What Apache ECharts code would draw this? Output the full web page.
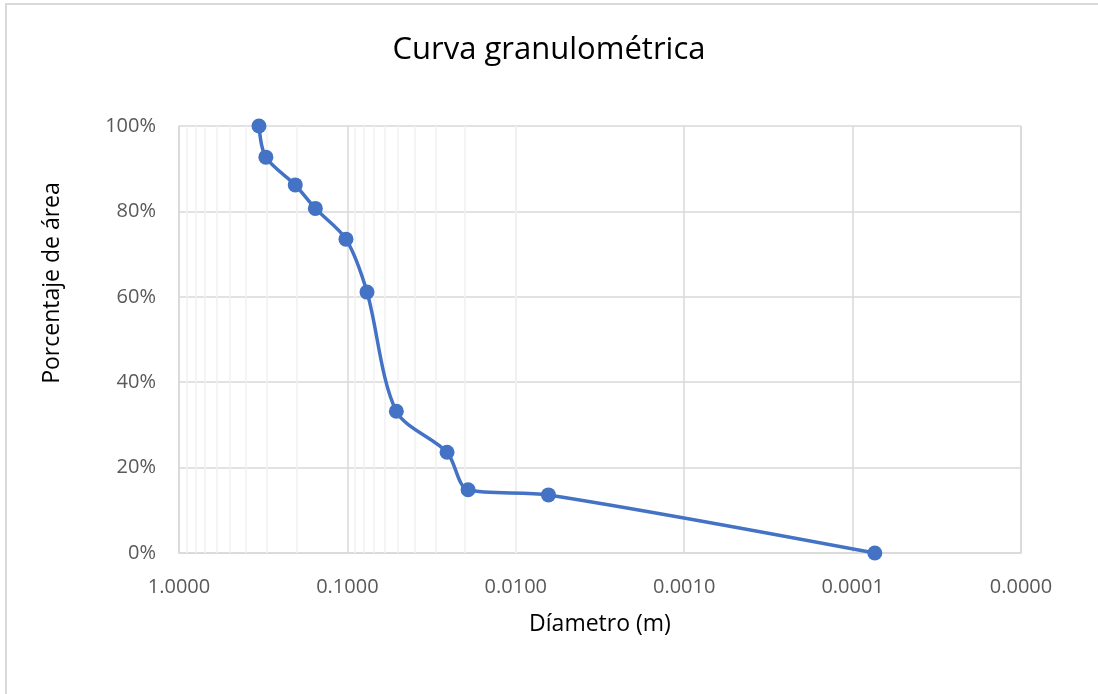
<!DOCTYPE html>
<html>
<head>
<meta charset="utf-8">
<script src="https://cdn.jsdelivr.net/npm/echarts@6/dist/echarts.min.js"></script>
<style>
html,body{margin:0;padding:0;background:#fff;overflow:hidden;}
#frame{position:absolute;left:5px;top:3px;width:1200px;height:800px;border-left:2px solid #d9d9d9;border-top:2px solid #d9d9d9;}
#chart{position:absolute;left:0;top:0;width:1098px;height:694px;}
</style>
</head>
<body>
<div id="frame"></div>
<div id="chart"></div>
<script>
// Data
const diameters = [0.335, 0.305, 0.204, 0.155, 0.102, 0.0765, 0.0512, 0.0256, 0.0192, 0.00640, 0.0000738];
const percents  = [1.000, 0.927, 0.862, 0.807, 0.735, 0.611, 0.332, 0.236, 0.148, 0.136, 0.000];
const xTickValues = [1, 0.1, 0.01, 0.001, 0.0001, 0.00001];
const yTickValues = [0, 0.2, 0.4, 0.6, 0.8, 1.0];

// minor grid values (2..9 times each decade)
const minorVals = [];
for (let e = -5; e < 0; e++) {
  for (let m = 2; m <= 9; m++) minorVals.push(m * Math.pow(10, e));
}

const font = "'Open Sans', 'Liberation Sans', sans-serif";
const chart = echarts.init(document.getElementById('chart'));
chart.setOption({
  animation: false,
  backgroundColor: 'transparent',
  title: {
    text: 'Curva granulométrica',
    left: 'center',
    top: 30,
    textStyle: { fontFamily: font, fontSize: 31, fontWeight: 'normal', color: '#000' }
  },
  grid: { left: 179, top: 126, width: 842, height: 427, containLabel: false },
  xAxis: {
    type: 'log',
    logBase: 10,
    min: 0.00001,
    max: 1,
    inverse: true,
    name: 'Díametro (m)',
    nameLocation: 'middle',
    nameGap: 60,
    nameTextStyle: { fontFamily: font, fontSize: 23, color: '#000' },
    axisLine: { show: true, lineStyle: { color: '#d9d9d9', width: 1.5 } },
    axisTick: { show: false },
    axisLabel: {
      fontFamily: font, fontSize: 20, color: '#595959', margin: 24,
      formatter: v => v.toFixed(4)
    },
    splitLine: { show: true, lineStyle: { color: '#d9d9d9', width: 1.5 } }
  },
  yAxis: {
    type: 'value',
    min: 0,
    max: 1,
    interval: 0.2,
    axisLine: { show: true, lineStyle: { color: '#d9d9d9', width: 1.5 } },
    axisTick: { show: false },
    axisLabel: {
      fontFamily: font, fontSize: 20, color: '#595959', margin: 23,
      formatter: v => Math.round(v * 100) + '%'
    },
    splitLine: { show: true, lineStyle: { color: '#d9d9d9', width: 1.5 } }
  },
  graphic: [{
    type: 'text',
    x: 52, y: 283,
    rotation: Math.PI / 2,
    style: {
      text: 'Porcentaje de área',
      fontFamily: font, fontSize: 23, fill: '#000',
      align: 'center', verticalAlign: 'middle'
    }
  }, {
    type: 'line',
    shape: { x1: 1021, y1: 126, x2: 1021, y2: 553 },
    style: { stroke: '#d9d9d9', lineWidth: 1.5 },
    z: 0
  }],
  series: [{
    type: 'line',
    data: diameters.map((d, i) => [d, percents[i]]),
    smooth: 0.3,
    symbol: 'circle',
    symbolSize: 15,
    lineStyle: { color: '#4472C4', width: 3.5 },
    itemStyle: { color: '#4472C4' },
    z: 5,
    markLine: {
      silent: true,
      symbol: 'none',
      label: { show: false },
      lineStyle: { color: '#f0f0f0', width: 1.5, type: 'solid' },
      z: 1,
      data: minorVals.map(v => ({ xAxis: v }))
    }
  }]
});
</script>
</body>
</html>
